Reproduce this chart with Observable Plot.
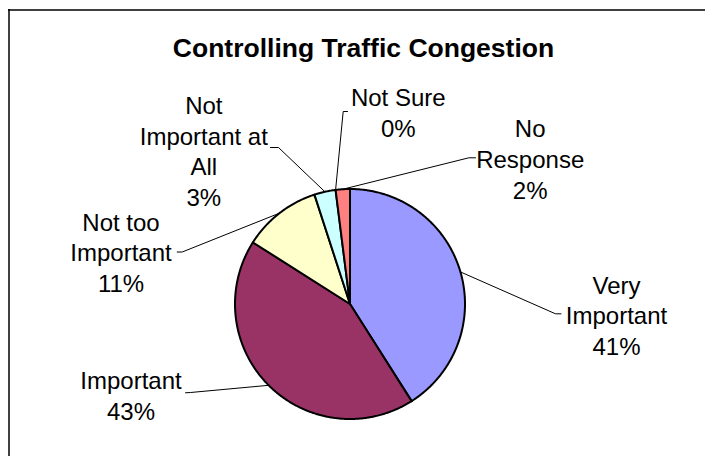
<!DOCTYPE html>
<html><head><meta charset="utf-8">
<script src="https://cdn.jsdelivr.net/npm/d3@7"></script>
<script src="https://cdn.jsdelivr.net/npm/@observablehq/plot@0.6"></script>
<style>body{margin:0;background:#fff} svg{display:block}</style>
</head><body><div id="chart"></div>
<script>
// ---- data ----
const title = "Controlling Traffic Congestion";
const categories = ["Very Important", "Important", "Not too Important", "Not Important at All", "Not Sure", "No Response"];
const values = [41, 43, 11, 3, 0, 2];
const percentLabels = ["41%", "43%", "11%", "3%", "0%", "2%"];
const wrappedNames = ["Very\nImportant", "Important", "Not too\nImportant", "Not\nImportant at\nAll", "Not Sure", "No\nResponse"];
const colors = ["#9999FF", "#993366", "#FFFFCC", "#CCFFFF", "#660066", "#FF8080"];

// ---- layout (pixels) ----
const W = 705, H = 456, CX = 349.5, CY = 303.5, R = 115;
const labelPos = [[616, 354.5], [130.5, 419.5], [120.5, 291.7], [203.3, 205.5], [397.8, 136.7], [529.7, 198.3]];
const leaderPts = [
  [[555, 313.3], [560.5, 313.3]],
  [[190, 392], [185, 392.3]],
  [[181.7, 251.5], [176.7, 251.5]],
  [[278, 147], [270, 147]],
  [[342.7, 111], [347, 111]],
  [[468.3, 157.3], [475, 157.3]]
];
const titlePos = [363, 56];

const ux = px => (px - CX) / R;
const uy = py => (CY - py) / R;

// pie geometry (unit radius, clockwise from 12 o'clock)
const total = d3.sum(values);
let acc = 0;
const slices = categories.map((c, i) => {
  const a0 = acc / total * 2 * Math.PI;
  acc += values[i];
  const a1 = acc / total * 2 * Math.PI;
  return {c, i, a0, a1, mid: (a0 + a1) / 2};
});
const slicePts = [];
for (const s of slices) {
  if (s.a1 - s.a0 <= 0) continue;
  slicePts.push({k: s.c, x: 0, y: 0, color: colors[s.i]});
  const n = Math.max(2, Math.ceil((s.a1 - s.a0) / (Math.PI / 360)));
  for (let j = 0; j <= n; j++) {
    const a = s.a0 + (s.a1 - s.a0) * j / n;
    slicePts.push({k: s.c, x: Math.sin(a), y: Math.cos(a), color: colors[s.i]});
  }
}
const leaderData = [];
slices.forEach((s, i) => {
  leaderData.push({k: s.c, x: Math.sin(s.mid), y: Math.cos(s.mid)});
  for (const p of leaderPts[i]) leaderData.push({k: s.c, x: ux(p[0]), y: uy(p[1])});
});
const labelData = slices.map((s, i) => ({
  text: wrappedNames[i] + "\n" + percentLabels[i],
  x: ux(labelPos[i][0]), y: uy(labelPos[i][1])
}));

const font = "'Liberation Sans', Arial, sans-serif";
const chart = Plot.plot({
  width: W, height: H,
  margin: 0,
  x: {domain: [ux(0), ux(W)], range: [0, W], axis: null},
  y: {domain: [uy(H), uy(0)], range: [H, 0], axis: null},
  color: {type: "identity"},
  style: {fontFamily: font, background: "#fff", overflow: "visible"},
  marks: [
    Plot.ruleY([uy(9.5)], {x1: ux(8), x2: ux(W), stroke: "#000", strokeWidth: 1.5}),
    Plot.ruleX([ux(8.5)], {y1: uy(9), y2: uy(H), stroke: "#000", strokeWidth: 1.5}),
    Plot.line(leaderData, {x: "x", y: "y", z: "k", stroke: "#000", strokeWidth: 1, curve: "linear"}),
    Plot.line(slicePts, {x: "x", y: "y", z: "k", fill: "color", stroke: "#000", strokeWidth: 2, strokeLinejoin: "round", curve: "linear-closed"}),
    Plot.text(labelData, {x: "x", y: "y", text: "text", fontSize: 24, lineHeight: 1.28, lineAnchor: "bottom", textAnchor: "middle", fill: "#000"}),
    Plot.text([title], {x: ux(titlePos[0]), y: uy(titlePos[1]), text: d => d, fontSize: 26.5, fontWeight: "bold", lineAnchor: "bottom", textAnchor: "middle", fill: "#000"})
  ]
});
document.getElementById("chart").appendChild(chart);
</script>
</body></html>
